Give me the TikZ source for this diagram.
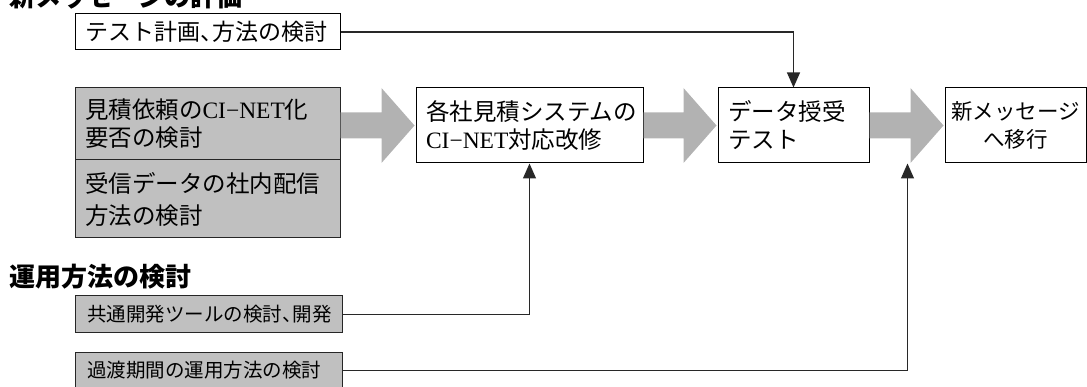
\documentclass[tikz,border=0pt]{standalone}
\usepackage{fontspec}
\setmainfont{Noto Sans CJK JP}
\newfontfamily\latn{Liberation Serif}
\usetikzlibrary{arrows.meta,calc}
\definecolor{boxgray}{RGB}{192,192,192}
\definecolor{flowgray}{RGB}{178,178,178}
\definecolor{linegray}{RGB}{40,40,40}
\newcommand\cinet{{\latn CI−NET}}
\newcommand\tten{\makebox[0.55em][l]{、}}
\newcommand\flowarrow[2]{%
  \coordinate (fa-s) at (#1.east |- #2.west);
  \coordinate (fa-t) at ($(#2.west)+(-1,0)$);
  \fill[flowgray] ($(fa-s)+(0,-13)$) -- ($(fa-t)+(-33,-13)$) -- ($(fa-t)+(-33,-37.5)$)
    -- (fa-t) -- ($(fa-t)+(-33,37.5)$) -- ($(fa-t)+(-33,13)$) -- ($(fa-s)+(0,13)$) -- cycle;}
\begin{document}
\begin{tikzpicture}[x=1pt,y=-1pt,
  procbox/.style={draw=black, line width=1pt, fill=white, inner xsep=10pt, inner ysep=0pt,
    font=\fontsize{23.5}{28}\selectfont, align=left, anchor=center},
  graybox/.style={procbox, fill=boxgray, draw=black!85},
  heading/.style={anchor=west, inner sep=0pt, font=\fontsize{26}{30}\selectfont\bfseries},
  conn/.style={draw=linegray, line width=1.1pt, -{Triangle[length=15pt,width=13pt]}}]
\useasboundingbox (0,0) rectangle (1087,387);
% headings
\node[heading] (title) at (9,-3) {新メッセージの評価};
\node[heading] (ops) at (9,277) {運用方法の検討};
% boxes
\node[procbox, text width=245pt, minimum height=36pt, font=\fontsize{23}{28}\selectfont] (plan) at (207.5,32) {テスト計画\tten 方法の検討};
\node[graybox, text width=245pt, minimum height=72pt] (req) at (207.5,124) {見積依頼の\cinet 化\\要否の検討};
\node[graybox, text width=245pt, minimum height=78pt, font=\fontsize{23.5}{32}\selectfont] (dist) at (207.5,199) {受信データの社内配信\\方法の検討};
\node[procbox, text width=207pt, minimum height=75pt] (mod) at (529.5,125.5) {各社見積システムの\\\cinet 対応改修};
\node[procbox, text width=131pt, minimum height=75pt] (test) at (793.5,125.5) {データ授受\\テスト};
\node[procbox, inner xsep=1pt, text width=139pt, minimum height=75pt, align=center, font=\fontsize{21.5}{28}\selectfont] (migr) at (1015.5,125.5) {新メッセージ\\へ移行};
\node[graybox, inner xsep=12pt, text width=243pt, minimum height=37pt, font=\fontsize{19.5}{24}\selectfont] (tool) at (208.5,314.5) {共通開発ツールの検討\tten 開発};
\node[graybox, inner xsep=12pt, text width=243pt, minimum height=37pt, font=\fontsize{19.5}{24}\selectfont] (trans) at (208.5,370.5) {過渡期間の運用方法の検討};
% big flow arrows
\flowarrow{req}{mod}
\flowarrow{mod}{test}
\flowarrow{test}{migr}
% thin connectors
\coordinate (jointip) at ($(migr.west)+(-37,38)$);
\draw[conn] (plan.east) -| (test.north);
\draw[conn] (tool.east) -| (mod.south);
\draw[conn] (trans.east) -| (jointip);
\end{tikzpicture}
\end{document}
